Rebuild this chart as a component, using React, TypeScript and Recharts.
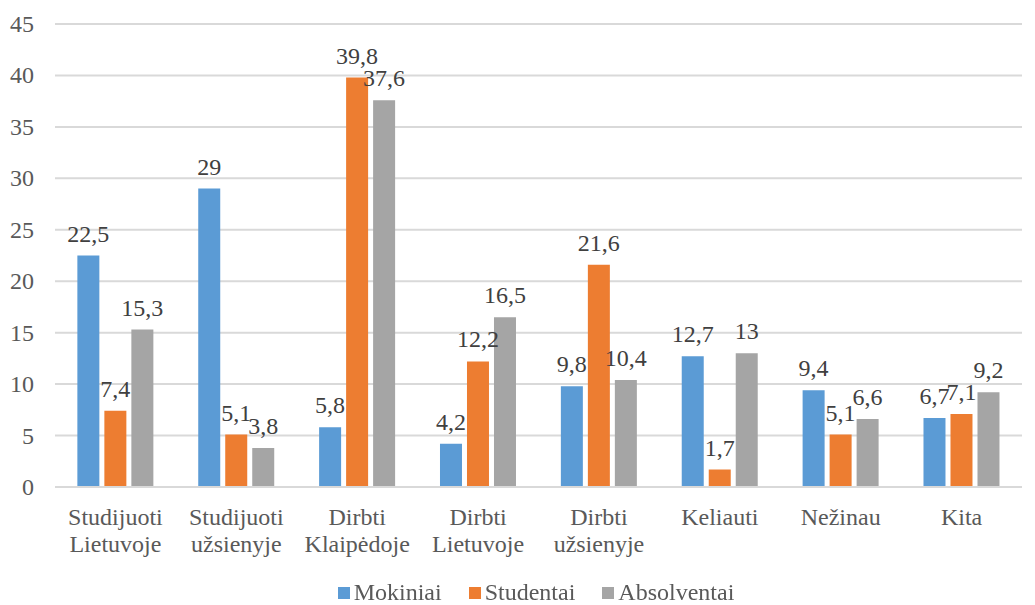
import React from 'react';
import { BarChart, Bar, XAxis, YAxis, CartesianGrid, Legend, LabelList } from 'recharts';

const categories = ['Studijuoti Lietuvoje', 'Studijuoti užsienyje', 'Dirbti Klaipėdoje', 'Dirbti Lietuvoje', 'Dirbti užsienyje', 'Keliauti', 'Nežinau', 'Kita'];
const mokiniai = [22.5, 29, 5.8, 4.2, 9.8, 12.7, 9.4, 6.7];
const studentai = [7.4, 5.1, 39.8, 12.2, 21.6, 1.7, 5.1, 7.1];
const absolventai = [15.3, 3.8, 37.6, 16.5, 10.4, 13, 6.6, 9.2];
const yTicks = [0, 5, 10, 15, 20, 25, 30, 35, 40, 45];

const seriesNames = ['Mokiniai', 'Studentai', 'Absolventai'];
const colors = ['#5B9BD5', '#ED7D31', '#A5A5A5'];

const data = categories.map((c, i) => ({
  name: c,
  Mokiniai: mokiniai[i],
  Studentai: studentai[i],
  Absolventai: absolventai[i],
}));

const FONT = "'Liberation Serif', cursive";
const FS = 24;

const fmt = (v: any) => String(v).replace('.', ',');

const XTick = (props: any) => {
  const { x, y, payload } = props;
  const words = String(payload.value).split(' ');
  return (
    <g transform={`translate(${x},${y})`}>
      <text textAnchor="middle" fill="#595959" style={{ fontFamily: FONT, fontSize: FS }}>
        {words.map((w: string, i: number) => (
          <tspan key={i} x={0} y={30 + i * 27}>{w}</tspan>
        ))}
      </text>
    </g>
  );
};

const YTick = (props: any) => {
  const { y, payload } = props;
  return (
    <text x={34} y={y + 8} textAnchor="end" fill="#595959" style={{ fontFamily: FONT, fontSize: FS }}>
      {payload.value}
    </text>
  );
};

const DataLabel = (props: any) => {
  const { x, y, width, value } = props;
  return (
    <text x={x + width / 2} y={y - 14} textAnchor="middle" fill="#404040" style={{ fontFamily: FONT, fontSize: FS }}>
      {fmt(value)}
    </text>
  );
};

const LegendContent = () => (
  <div style={{ display: 'flex', justifyContent: 'center', alignItems: 'center', fontFamily: FONT, fontSize: FS, color: '#595959', paddingTop: 22, paddingLeft: 50 }}>
    {seriesNames.map((n, i) => (
      <div key={n} style={{ display: 'flex', alignItems: 'center', marginRight: i < 2 ? 27 : 0 }}>
        <div style={{ width: 12, height: 12, background: colors[i], marginRight: 4 }} />
        <span>{n}</span>
      </div>
    ))}
  </div>
);

export default function App() {
  return (
    <div style={{ position: 'fixed', left: 0, top: 0, width: 1035, height: 605, background: '#fff', fontFamily: FONT }}>
      <BarChart
        width={1035}
        height={605}
        data={data}
        margin={{ top: 24, right: 13, left: 0, bottom: 0 }}
        barCategoryGap="18.5%"
        barGap={5}
      >
        <CartesianGrid vertical={false} stroke="#D9D9D9" strokeWidth={2} />
        <XAxis
          dataKey="name"
          interval={0}
          height={70}
          tick={<XTick />}
          tickLine={false}
          axisLine={{ stroke: '#D9D9D9', strokeWidth: 2 }}
        />
        <YAxis
          width={55}
          domain={[0, 45]}
          ticks={yTicks}
          tick={<YTick />}
          tickLine={false}
          axisLine={false}
        />
        <Legend verticalAlign="bottom" height={48} content={<LegendContent />} />
        {seriesNames.map((n, i) => (
          <Bar key={n} dataKey={n} fill={colors[i]} isAnimationActive={false}>
            <LabelList dataKey={n} content={<DataLabel />} />
          </Bar>
        ))}
      </BarChart>
    </div>
  );
}
